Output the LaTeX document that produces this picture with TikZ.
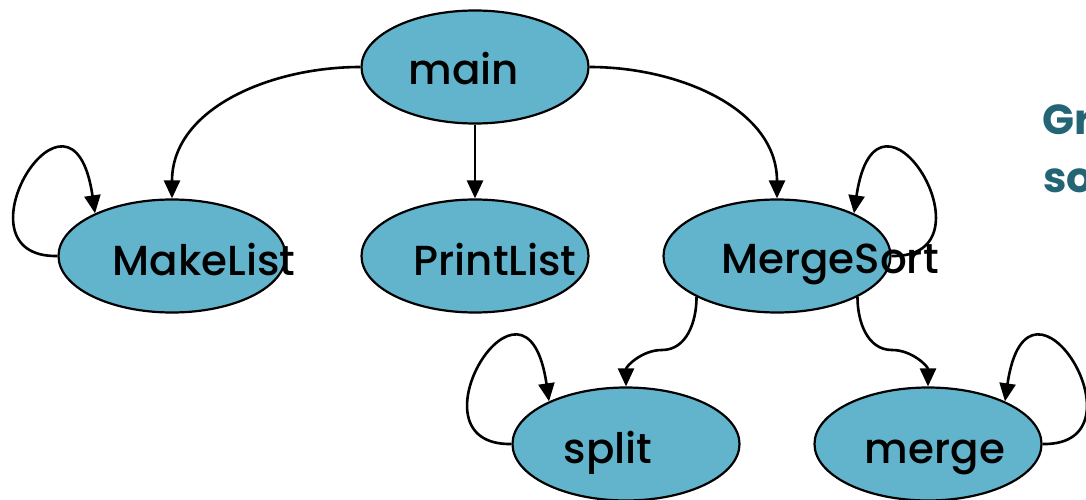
\documentclass[tikz,border=0pt]{standalone}
\usepackage{fontspec}
\setmainfont{Poppins}
\newfontfamily\medfont{Poppins Medium}
\usetikzlibrary{shapes.geometric,arrows.meta}
\definecolor{nodefill}{RGB}{98,180,204}
\definecolor{tealtext}{RGB}{36,101,117}
\begin{document}
\begin{tikzpicture}[x=1pt,y=1pt,
  fn/.style={ellipse,draw=black,line width=2.2pt,fill=nodefill,minimum width=227pt,minimum height=113pt,inner sep=0pt},
  lbl/.style={anchor=base,inner sep=0pt,font=\medfont\fontsize{42}{48}\selectfont},
  side/.style={anchor=base west,inner sep=0pt,text=tealtext,font=\bfseries\fontsize{42}{48}\selectfont},
  conn/.style={draw=black,line width=2.6pt,-{Triangle[length=18pt,width=16pt]}}]
\useasboundingbox (0,0) rectangle (1086,499);
\clip (0,0) rectangle (1086,499);
% nodes
\node[fn] (main) at (475,432) {};
\node[fn] (makelist) at (172,243) {};
\node[fn] (printlist) at (475,243) {};
\node[fn] (mergesort) at (777,243) {};
\node[fn] (split) at (626,55) {};
\node[fn] (merge) at (928,55) {};
\coordinate (sbend) at (662,149);
\coordinate (mbend) at (892,149);
% connectors
\path[conn] (main.west) to[out=180,in=90] (makelist.north);
\path[conn] (main.south) -- (printlist.north);
\path[conn] (main.east) to[out=0,in=90] (mergesort.north);
\path[conn] (makelist.west) .. controls +(-109,-2) and +(-23,158) .. (makelist.151);
\path[conn] (mergesort.east) .. controls +(109,-2) and +(23,158) .. (mergesort.29);
\path[conn] (split.west) .. controls +(-109,-2) and +(-23,158) .. (split.151);
\path[conn] (merge.east) .. controls +(109,-2) and +(23,158) .. (merge.29);
\path[conn] (mergesort.207) to[out=-90,in=0] (sbend) to[out=180,in=90] (split.north);
\path[conn] (mergesort.333) to[out=-90,in=180] (mbend) to[out=0,in=90] (merge.north);
% labels
\node[lbl] (t-main) at (464,414) {main};
\node[lbl] (t-makelist) at (204,224) {MakeList};
\node[lbl] (t-printlist) at (495,224) {PrintList};
\node[lbl] (t-mergesort) at (830,226) {MergeSort};
\node[lbl] (t-split) at (608,36) {split};
\node[lbl] (t-merge) at (935,36) {merge};
\node[side] (t-gr) at (1042,364) {Gr};
\node[side] (t-so) at (1043,307) {so};
\end{tikzpicture}
\end{document}
